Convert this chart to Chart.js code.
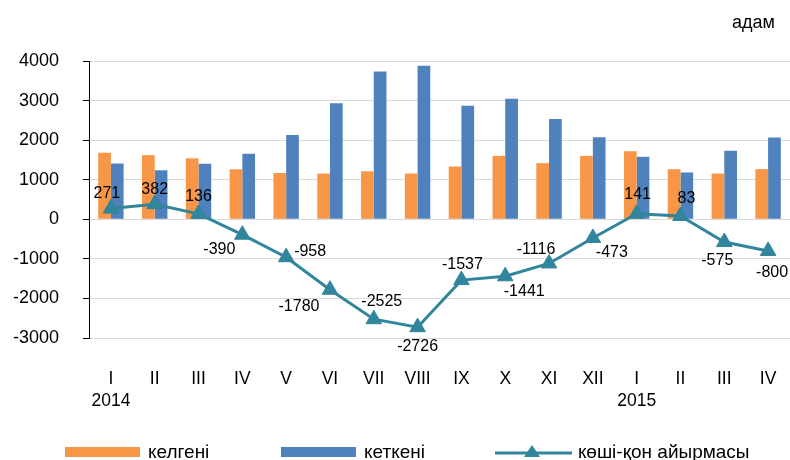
<!DOCTYPE html>
<html>
<head>
<meta charset="utf-8">
<script src="https://cdn.jsdelivr.net/npm/chart.js@4.4.1/dist/chart.umd.min.js"></script>
<style>
  body { margin: 0; background: #fff; font-family: "Liberation Sans", Arial, sans-serif; }
  #wrap { position: relative; width: 790px; height: 460px; }
  #unit { position: absolute; left: 732px; top: 12px; font-size: 18px; color: #000; }
  .leg { position: absolute; top: 441px; font-size: 19px; color: #000; line-height: 22px; }
  .sw { position: absolute; top: 447px; width: 75px; height: 10px; }
</style>
</head>
<body>
<div id="wrap">
  <canvas id="chart" width="790" height="460"></canvas>
  <div id="unit">адам</div>
  <div class="sw" style="left:65px;background:#F79646"></div>
  <div class="leg" style="left:148px">келгені</div>
  <div class="sw" style="left:281px;background:#4F81BD"></div>
  <div class="leg" style="left:364px">кеткені</div>
  <svg style="position:absolute;left:495px;top:442px" width="78" height="20">
    <line x1="0" y1="11" x2="77" y2="11" stroke="#31859C" stroke-width="3"/>
    <polygon points="37,3 45,15 29,15" fill="#31859C"/>
  </svg>
  <div class="leg" style="left:578px">көші-қон айырмасы</div>
</div>
<script>
const months = ['I', 'II', 'III', 'IV', 'V', 'VI', 'VII', 'VIII', 'IX', 'X', 'XI', 'XII', 'I', 'II', 'III', 'IV'];
const years = ['2014', '', '', '', '', '', '', '', '', '', '', '', '2015', '', '', ''];
const arrived = [1680, 1620, 1540, 1263, 1170, 1155, 1212, 1156, 1333, 1603, 1418, 1603, 1720, 1266, 1156, 1268];
const departed = [1409, 1238, 1404, 1653, 2128, 2935, 3737, 3882, 2870, 3044, 2534, 2076, 1579, 1183, 1731, 2068];
const netMigration = [271, 382, 136, -390, -958, -1780, -2525, -2726, -1537, -1441, -1116, -473, 141, 83, -575, -800];

// where each value label sits relative to its point (px)
const labelOffsets = [[-4, -15], [0, -15], [0, -17], [-23, 15], [24, -6], [-31, 17], [8, -18], [0, 19],
  [1, -16], [19, 15], [-13, -14], [19, 15], [1, -19], [6, -17], [-7, 19], [4, 22]];

const valueLabels = {
    id: 'valueLabels',
    afterDatasetsDraw(chart) {
        const ctx = chart.ctx;
        const meta = chart.getDatasetMeta(0);
        ctx.save();
        ctx.font = '16px "Liberation Sans", Arial, sans-serif';
        ctx.fillStyle = '#000';
        ctx.textAlign = 'center';
        ctx.textBaseline = 'middle';
        meta.data.forEach((pt, i) => {
            const off = labelOffsets[i];
            ctx.fillText(String(netMigration[i]), pt.x + off[0], pt.y + off[1]);
        });
        ctx.restore();
    }
};

const ctx = document.getElementById('chart').getContext('2d');
new Chart(ctx, {
    type: 'bar',
    data: {
        labels: months.map((m, i) => [m, years[i]]),
        datasets: [
            {
                type: 'line',
                label: 'көші-қон айырмасы',
                data: netMigration,
                borderColor: '#31859C',
                backgroundColor: '#31859C',
                borderWidth: 3,
                pointStyle: 'triangle',
                pointRadius: 9,
                pointBorderWidth: 1,
                order: 0,
            },
            {
                label: 'келгені',
                data: arrived,
                backgroundColor: '#F79646',
                categoryPercentage: 0.58,
                barPercentage: 1,
                order: 1,
            },
            {
                label: 'кеткені',
                data: departed,
                backgroundColor: '#4F81BD',
                categoryPercentage: 0.58,
                barPercentage: 1,
                order: 1,
            }
        ]
    },
    options: {
        responsive: false,
        animation: false,
        layout: { autoPadding: false, padding: { top: 61, left: 0, right: 0, bottom: 0 } },
        plugins: {
            legend: { display: false },
            tooltip: { enabled: false },
        },
        scales: {
            x: {
                grid: { display: true, drawOnChartArea: false, drawTicks: true, tickLength: 30, tickColor: 'rgba(0,0,0,0)' },
                border: { display: false },
                ticks: {
                    color: '#000',
                    padding: 0,
                    maxRotation: 0,
                    autoSkip: false,
                    font: { family: '"Liberation Sans", Arial, sans-serif', size: 17.5, lineHeight: 1.27 },
                },
                afterFit(scale) {
                    scale.height = 122;
                    scale.paddingLeft = 0;
                    scale.paddingRight = 0;
                },
            },
            y: {
                min: -3000,
                max: 4000,
                ticks: {
                    stepSize: 1000,
                    color: '#000',
                    padding: 24,
                    font: { family: '"Liberation Sans", Arial, sans-serif', size: 18 },
                    callback: (v) => String(v),
                },
                grid: { color: '#D9D9D9', lineWidth: 1, tickColor: '#000', tickLength: 6 },
                border: { display: true, color: '#000', width: 1 },
                afterFit(scale) { scale.width = 89; },
            }
        }
    },
    plugins: [valueLabels]
});
</script>
</body>
</html>
